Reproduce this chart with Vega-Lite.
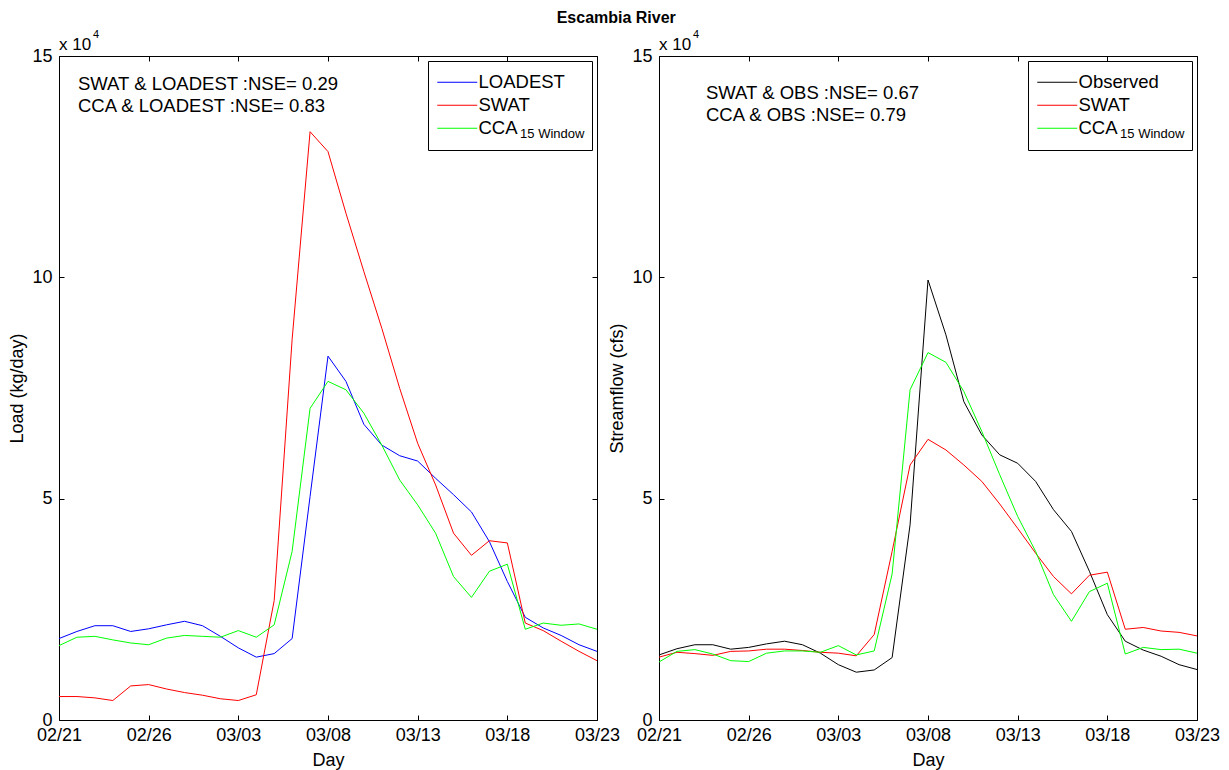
{
  "$schema": "https://vega.github.io/schema/vega-lite/v6.json",
  "padding": {"left": 8, "top": 9, "right": 5, "bottom": 3},
  "title": {"text": "Escambia River", "fontSize": 16, "fontWeight": "bold", "font": "Liberation Sans", "color": "#000", "anchor": "middle", "offset": 3, "dx": 2},
  "datasets": {
    "load": [
      {"date": "02/21", "day": 0, "LOADEST": 18400, "SWAT": 5300, "CCA": 16800},
      {"date": "02/22", "day": 1, "LOADEST": 20000, "SWAT": 5300, "CCA": 18700},
      {"date": "02/23", "day": 2, "LOADEST": 21300, "SWAT": 5000, "CCA": 18900},
      {"date": "02/24", "day": 3, "LOADEST": 21300, "SWAT": 4400, "CCA": 18100},
      {"date": "02/25", "day": 4, "LOADEST": 20000, "SWAT": 7700, "CCA": 17400},
      {"date": "02/26", "day": 5, "LOADEST": 20600, "SWAT": 8000, "CCA": 17000},
      {"date": "02/27", "day": 6, "LOADEST": 21500, "SWAT": 7000, "CCA": 18500},
      {"date": "02/28", "day": 7, "LOADEST": 22300, "SWAT": 6200, "CCA": 19100},
      {"date": "03/01", "day": 8, "LOADEST": 21300, "SWAT": 5600, "CCA": 18900},
      {"date": "03/02", "day": 9, "LOADEST": 18900, "SWAT": 4800, "CCA": 18700},
      {"date": "03/03", "day": 10, "LOADEST": 16300, "SWAT": 4400, "CCA": 20200},
      {"date": "03/04", "day": 11, "LOADEST": 14200, "SWAT": 5700, "CCA": 18700},
      {"date": "03/05", "day": 12, "LOADEST": 15000, "SWAT": 27000, "CCA": 21500},
      {"date": "03/06", "day": 13, "LOADEST": 18400, "SWAT": 86000, "CCA": 38100},
      {"date": "03/07", "day": 14, "LOADEST": 50500, "SWAT": 132900, "CCA": 70400},
      {"date": "03/08", "day": 15, "LOADEST": 82200, "SWAT": 128400, "CCA": 76500},
      {"date": "03/09", "day": 16, "LOADEST": 76500, "SWAT": 114500, "CCA": 74600},
      {"date": "03/10", "day": 17, "LOADEST": 66800, "SWAT": 101300, "CCA": 69300},
      {"date": "03/11", "day": 18, "LOADEST": 62100, "SWAT": 88500, "CCA": 62100},
      {"date": "03/12", "day": 19, "LOADEST": 59700, "SWAT": 74900, "CCA": 54200},
      {"date": "03/13", "day": 20, "LOADEST": 58500, "SWAT": 62500, "CCA": 48600},
      {"date": "03/14", "day": 21, "LOADEST": 54600, "SWAT": 53100, "CCA": 42200},
      {"date": "03/15", "day": 22, "LOADEST": 50900, "SWAT": 42200, "CCA": 32400},
      {"date": "03/16", "day": 23, "LOADEST": 47000, "SWAT": 37200, "CCA": 27700},
      {"date": "03/17", "day": 24, "LOADEST": 40300, "SWAT": 40500, "CCA": 33600},
      {"date": "03/18", "day": 25, "LOADEST": 31300, "SWAT": 40000, "CCA": 35200},
      {"date": "03/19", "day": 26, "LOADEST": 23200, "SWAT": 21900, "CCA": 20500},
      {"date": "03/20", "day": 27, "LOADEST": 20800, "SWAT": 20200, "CCA": 21900},
      {"date": "03/21", "day": 28, "LOADEST": 19100, "SWAT": 17800, "CCA": 21400},
      {"date": "03/22", "day": 29, "LOADEST": 17000, "SWAT": 15500, "CCA": 21700},
      {"date": "03/23", "day": 30, "LOADEST": 15500, "SWAT": 13400, "CCA": 20500}
    ],
    "flow": [
      {"date": "02/21", "day": 0, "Observed": 14700, "SWAT": 14200, "CCA": 13100},
      {"date": "02/22", "day": 1, "Observed": 16100, "SWAT": 15300, "CCA": 15500},
      {"date": "02/23", "day": 2, "Observed": 17000, "SWAT": 15000, "CCA": 15900},
      {"date": "02/24", "day": 3, "Observed": 17000, "SWAT": 14600, "CCA": 14900},
      {"date": "02/25", "day": 4, "Observed": 16000, "SWAT": 15500, "CCA": 13400},
      {"date": "02/26", "day": 5, "Observed": 16400, "SWAT": 15600, "CCA": 13200},
      {"date": "02/27", "day": 6, "Observed": 17200, "SWAT": 16000, "CCA": 15100},
      {"date": "02/28", "day": 7, "Observed": 17800, "SWAT": 16000, "CCA": 15600},
      {"date": "03/01", "day": 8, "Observed": 17000, "SWAT": 15700, "CCA": 15600},
      {"date": "03/02", "day": 9, "Observed": 15100, "SWAT": 15300, "CCA": 15300},
      {"date": "03/03", "day": 10, "Observed": 12500, "SWAT": 15100, "CCA": 16800},
      {"date": "03/04", "day": 11, "Observed": 10800, "SWAT": 14500, "CCA": 14700},
      {"date": "03/05", "day": 12, "Observed": 11300, "SWAT": 19300, "CCA": 15600},
      {"date": "03/06", "day": 13, "Observed": 14100, "SWAT": 38100, "CCA": 33000},
      {"date": "03/07", "day": 14, "Observed": 44100, "SWAT": 57600, "CCA": 74600},
      {"date": "03/08", "day": 15, "Observed": 99400, "SWAT": 63400, "CCA": 83000},
      {"date": "03/09", "day": 16, "Observed": 87000, "SWAT": 61000, "CCA": 80800},
      {"date": "03/10", "day": 17, "Observed": 71900, "SWAT": 57600, "CCA": 74200},
      {"date": "03/11", "day": 18, "Observed": 64400, "SWAT": 53900, "CCA": 65200},
      {"date": "03/12", "day": 19, "Observed": 59900, "SWAT": 48800, "CCA": 55400},
      {"date": "03/13", "day": 20, "Observed": 58000, "SWAT": 43300, "CCA": 46000},
      {"date": "03/14", "day": 21, "Observed": 53900, "SWAT": 37700, "CCA": 38100},
      {"date": "03/15", "day": 22, "Observed": 47500, "SWAT": 32400, "CCA": 28300},
      {"date": "03/16", "day": 23, "Observed": 42600, "SWAT": 28500, "CCA": 22300},
      {"date": "03/17", "day": 24, "Observed": 33600, "SWAT": 32700, "CCA": 29000},
      {"date": "03/18", "day": 25, "Observed": 23800, "SWAT": 33400, "CCA": 30900},
      {"date": "03/19", "day": 26, "Observed": 17800, "SWAT": 20500, "CCA": 14900},
      {"date": "03/20", "day": 27, "Observed": 15800, "SWAT": 20900, "CCA": 16400},
      {"date": "03/21", "day": 28, "Observed": 14400, "SWAT": 20100, "CCA": 15900},
      {"date": "03/22", "day": 29, "Observed": 12500, "SWAT": 19800, "CCA": 16000},
      {"date": "03/23", "day": 30, "Observed": 11400, "SWAT": 19000, "CCA": 15100}
    ]
  },
  "spacing": 62,
  "bounds": "flush",
  "resolve": {"scale": {"color": "independent"}, "legend": {"color": "independent"}},
  "hconcat": [
    {
      "width": 538,
      "height": 664,
      "layer": [
        {
          "data": {"name": "load"},
          "transform": [{"fold": ["LOADEST", "SWAT", "CCA"], "as": ["series", "value"]}],
          "mark": {"type": "line", "strokeWidth": 1},
          "encoding": {
            "x": {"field": "day", "type": "quantitative", "scale": {"domain": [0, 30], "nice": false, "zero": false},
              "axis": {"orient": "bottom", "values": [0, 5, 10, 15, 20, 25, 30], "labelExpr": "['02/21','02/26','03/03','03/08','03/13','03/18','03/23'][round(datum.value/5)]", "title": "Day", "labelPadding": 11, "titlePadding": 7}},
            "y": {"field": "value", "type": "quantitative", "scale": {"domain": [0, 150000], "nice": false},
              "axis": {"orient": "left", "values": [0, 50000, 100000, 150000], "labelExpr": "format(datum.value/10000, 'd')", "title": "Load (kg/day)", "labelPadding": 12, "titlePadding": 5}},
            "color": {"field": "series", "type": "nominal", "sort": ["LOADEST", "SWAT", "CCA"],
              "scale": {"domain": ["LOADEST", "SWAT", "CCA"], "range": ["#0000ff", "#ff0000", "#00ff00"]},
              "legend": {"title": null, "labelExpr": "datum.label == 'CCA' ? 'CCA            \u200b' : datum.label"}}
          }
        },
        {
          "data": {"name": "load"},
          "transform": [{"fold": ["LOADEST", "SWAT", "CCA"], "as": ["series", "value"]}],
          "mark": {"type": "line", "opacity": 0},
          "encoding": {
            "x": {"field": "day", "type": "quantitative", "axis": {"orient": "top", "values": [0, 5, 10, 15, 20, 25, 30], "labels": false, "title": null}},
            "y": {"field": "value", "type": "quantitative", "axis": {"orient": "right", "values": [0, 50000, 100000, 150000], "labels": false, "title": null}},
            "detail": {"field": "series"}
          }
        },
        {
          "data": {"values": [{}]},
          "mark": {"type": "text", "align": "left", "baseline": "middle", "fontSize": 18.5},
          "encoding": {"x": {"datum": 1.06, "type": "quantitative", "axis": null}, "y": {"datum": 143700, "type": "quantitative", "axis": null}, "text": {"value": "SWAT & LOADEST :NSE= 0.29"}}
        },
        {
          "data": {"values": [{}]},
          "mark": {"type": "text", "align": "left", "baseline": "middle", "fontSize": 18.5},
          "encoding": {"x": {"datum": 1.06, "type": "quantitative", "axis": null}, "y": {"datum": 138800, "type": "quantitative", "axis": null}, "text": {"value": "CCA & LOADEST :NSE= 0.83"}}
        },
        {
          "data": {"values": [{}]},
          "mark": {"type": "text", "align": "left", "baseline": "alphabetic", "fontSize": 17, "dx": 0, "dy": -6},
          "encoding": {"x": {"datum": 0, "type": "quantitative", "axis": null}, "y": {"datum": 150000, "type": "quantitative", "axis": null}, "text": {"value": "x 10"}}
        },
        {
          "data": {"values": [{}]},
          "mark": {"type": "text", "align": "left", "baseline": "alphabetic", "fontSize": 11, "dx": 34, "dy": -18},
          "encoding": {"x": {"datum": 0, "type": "quantitative", "axis": null}, "y": {"datum": 150000, "type": "quantitative", "axis": null}, "text": {"value": "4"}}
        },
        {
          "data": {"values": [{}]},
          "mark": {"type": "text", "align": "left", "baseline": "middle", "fontSize": 13},
          "encoding": {"x": {"datum": 25.71, "type": "quantitative", "axis": null}, "y": {"datum": 132400, "type": "quantitative", "axis": null}, "text": {"value": "15 Window"}}
        }
      ],
      "resolve": {"axis": {"x": "independent", "y": "independent"}}
    },
    {
      "width": 538,
      "height": 664,
      "layer": [
        {
          "data": {"name": "flow"},
          "transform": [{"fold": ["Observed", "SWAT", "CCA"], "as": ["series", "value"]}],
          "mark": {"type": "line", "strokeWidth": 1},
          "encoding": {
            "x": {"field": "day", "type": "quantitative", "scale": {"domain": [0, 30], "nice": false, "zero": false},
              "axis": {"orient": "bottom", "values": [0, 5, 10, 15, 20, 25, 30], "labelExpr": "['02/21','02/26','03/03','03/08','03/13','03/18','03/23'][round(datum.value/5)]", "title": "Day", "labelPadding": 11, "titlePadding": 7}},
            "y": {"field": "value", "type": "quantitative", "scale": {"domain": [0, 150000], "nice": false},
              "axis": {"orient": "left", "values": [0, 50000, 100000, 150000], "labelExpr": "format(datum.value/10000, 'd')", "title": "Streamflow (cfs)", "labelPadding": 12, "titlePadding": 5}},
            "color": {"field": "series", "type": "nominal", "sort": ["Observed", "SWAT", "CCA"],
              "scale": {"domain": ["Observed", "SWAT", "CCA"], "range": ["#000000", "#ff0000", "#00ff00"]},
              "legend": {"title": null, "labelExpr": "datum.label == 'CCA' ? 'CCA            \u200b' : datum.label"}}
          }
        },
        {
          "data": {"name": "flow"},
          "transform": [{"fold": ["Observed", "SWAT", "CCA"], "as": ["series", "value"]}],
          "mark": {"type": "line", "opacity": 0},
          "encoding": {
            "x": {"field": "day", "type": "quantitative", "axis": {"orient": "top", "values": [0, 5, 10, 15, 20, 25, 30], "labels": false, "title": null}},
            "y": {"field": "value", "type": "quantitative", "axis": {"orient": "right", "values": [0, 50000, 100000, 150000], "labels": false, "title": null}},
            "detail": {"field": "series"}
          }
        },
        {
          "data": {"values": [{}]},
          "mark": {"type": "text", "align": "left", "baseline": "middle", "fontSize": 18.5},
          "encoding": {"x": {"datum": 2.62, "type": "quantitative", "axis": null}, "y": {"datum": 141650, "type": "quantitative", "axis": null}, "text": {"value": "SWAT & OBS :NSE= 0.67"}}
        },
        {
          "data": {"values": [{}]},
          "mark": {"type": "text", "align": "left", "baseline": "middle", "fontSize": 18.5},
          "encoding": {"x": {"datum": 2.62, "type": "quantitative", "axis": null}, "y": {"datum": 136650, "type": "quantitative", "axis": null}, "text": {"value": "CCA & OBS :NSE= 0.79"}}
        },
        {
          "data": {"values": [{}]},
          "mark": {"type": "text", "align": "left", "baseline": "alphabetic", "fontSize": 17, "dx": 0, "dy": -6},
          "encoding": {"x": {"datum": 0, "type": "quantitative", "axis": null}, "y": {"datum": 150000, "type": "quantitative", "axis": null}, "text": {"value": "x 10"}}
        },
        {
          "data": {"values": [{}]},
          "mark": {"type": "text", "align": "left", "baseline": "alphabetic", "fontSize": 11, "dx": 34, "dy": -18},
          "encoding": {"x": {"datum": 0, "type": "quantitative", "axis": null}, "y": {"datum": 150000, "type": "quantitative", "axis": null}, "text": {"value": "4"}}
        },
        {
          "data": {"values": [{}]},
          "mark": {"type": "text", "align": "left", "baseline": "middle", "fontSize": 13},
          "encoding": {"x": {"datum": 25.71, "type": "quantitative", "axis": null}, "y": {"datum": 132400, "type": "quantitative", "axis": null}, "text": {"value": "15 Window"}}
        }
      ],
      "resolve": {"axis": {"x": "independent", "y": "independent"}}
    }
  ],
  "config": {
    "font": "Liberation Sans",
    "view": {"stroke": "#000000", "strokeWidth": 1},
    "axis": {"domain": false, "grid": false, "ticks": true, "tickColor": "#000000", "tickSize": -5, "tickWidth": 1,
      "labelFont": "Liberation Sans", "labelFontSize": 18, "labelColor": "#000000", "labelFlush": false, "labelOverlap": false,
      "titleFont": "Liberation Sans", "titleFontSize": 18, "titleFontWeight": "normal", "titleColor": "#000000"},
    "legend": {"orient": "top-right", "offset": 5, "symbolType": "M-4,0H4", "symbolSize": 100, "symbolStrokeWidth": 1, "symbolOffset": 8, "labelOffset": 12,
      "labelFont": "Liberation Sans", "labelFontSize": 18.5, "labelColor": "#000000", "labelBaseline": "middle",
      "strokeColor": "#000000", "padding": 12, "rowPadding": 4, "cornerRadius": 0},
    "text": {"font": "Liberation Sans", "color": "#000000"}
  }
}
